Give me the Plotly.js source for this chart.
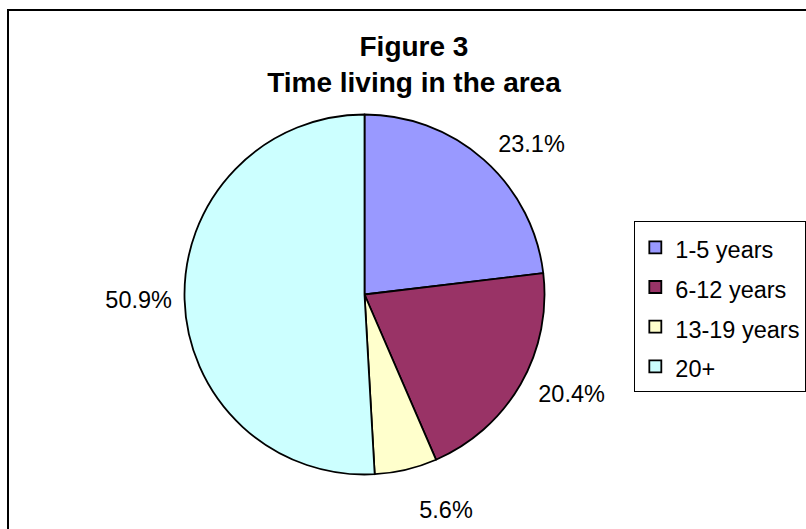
<!DOCTYPE html>
<html>
<head>
<meta charset="utf-8">
<script src="https://cdn.plot.ly/plotly-3.0.1.min.js"></script>
<style>
  html, body { margin: 0; padding: 0; background: #ffffff; }
  #wrap { position: relative; width: 806px; height: 529px; overflow: hidden; }
  #chart { position: absolute; left: 0; top: 0; width: 806px; height: 529px; }
  #frame { position: absolute; left: 7px; top: 9px; width: 830px; height: 540px;
           border-left: 2px solid #000; border-top: 2px solid #000; pointer-events: none; }
</style>
</head>
<body>
<div id="wrap">
  <div id="chart"></div>
  <div id="frame"></div>
</div>
<script>
// ---- data ----
const categories = ['1-5 years', '6-12 years', '13-19 years', '20+'];
const shares = [23.1, 20.4, 5.6, 50.9];
const sliceColors = ['#9999FF', '#993366', '#FFFFCC', '#CCFFFF'];
const titleLines = ['Figure 3', 'Time living in the area'];

const FONT = 'Liberation Sans, Arial, sans-serif';
const TEXT_SIZE = 23.5;

// legend entries: text drawn at TEXT_SIZE, legend font set larger only to get Excel-like row spacing
const legendLabels = categories.map(c => '<span style="font-size:' + TEXT_SIZE + 'px">' + c + '</span>');

// visible pie (fills + outlines + legend)
const pieShape = {
  type: 'pie',
  labels: legendLabels,
  values: shares,
  sort: false,
  direction: 'clockwise',
  rotation: 0,
  marker: { colors: sliceColors, line: { color: '#000000', width: 1.8 } },
  textinfo: 'none',
  hoverinfo: 'skip',
  showlegend: true,
  domain: { x: [0.2289, 0.6756], y: [0.1030, 0.7836] }
};

// transparent companion pie, only used to place the outside percent labels a little further out
const pieLabels = {
  type: 'pie',
  labels: categories,
  values: shares,
  sort: false,
  direction: 'clockwise',
  rotation: 0,
  pull: [0.03, 0.037, 0.125, 0],
  marker: { colors: categories.map(() => 'rgba(0,0,0,0)'), line: { width: 0 } },
  textposition: 'outside',
  texttemplate: '%{percent:.1%}',
  outsidetextfont: { family: FONT, size: TEXT_SIZE, color: '#000000' },
  hoverinfo: 'skip',
  showlegend: false,
  domain: { x: [0.19262, 0.71185], y: [0.04773, 0.83885] }
};

const layout = {
  width: 806,
  height: 529,
  margin: { l: 0, r: 0, t: 0, b: 0, autoexpand: false },
  paper_bgcolor: '#ffffff',
  font: { family: FONT, color: '#000000' },
  title: {
    text: titleLines.join('<br>'),
    font: { family: FONT, size: 28, color: '#000000', weight: 'bold' },
    x: 0.5136, xanchor: 'center',
    y: 0.895, yanchor: 'top'
  },
  legend: {
    x: 0.787, xanchor: 'left',
    y: 0.5813, yanchor: 'top',
    bordercolor: '#000000', borderwidth: 1, bgcolor: '#ffffff',
    font: { family: FONT, size: 28.2, color: '#000000' },
    traceorder: 'normal'
  },
  showlegend: true
};

Plotly.newPlot('chart', [pieShape, pieLabels], layout, { displayModeBar: false, staticPlot: true });
</script>
</body>
</html>
